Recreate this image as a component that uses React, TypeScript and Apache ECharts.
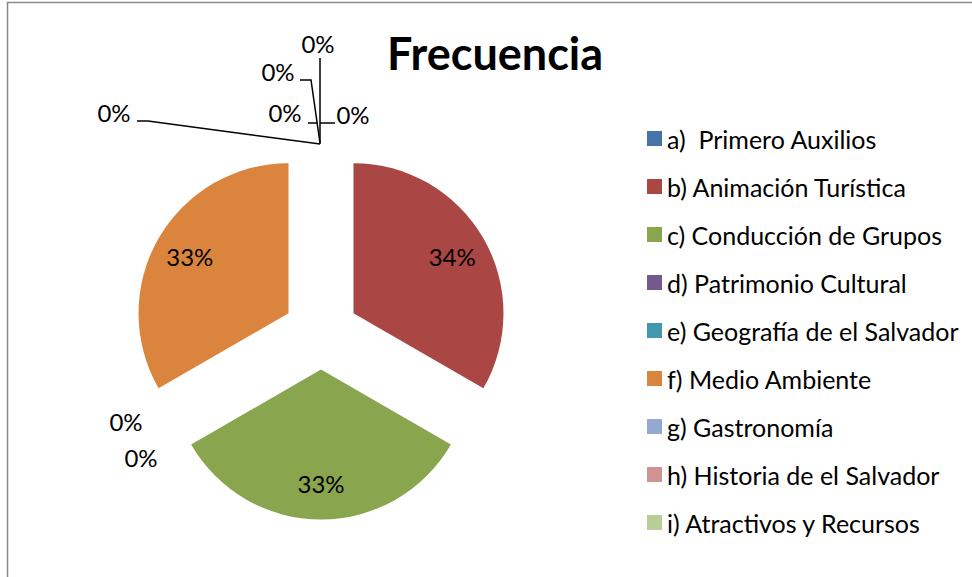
import React, { useEffect, useRef } from "react";
import * as echarts from "echarts";

const categories = [
  "a)  Primero Auxilios",
  "b) Animación Turística",
  "c) Conducción de Grupos",
  "d) Patrimonio Cultural",
  "e) Geografía de el Salvador",
  "f) Medio Ambiente",
  "g) Gastronomía",
  "h) Historia de el Salvador",
  "i) Atractivos y Recursos",
  "j)",
];
const values = [0, 1, 1, 0, 0, 1, 0, 0, 0, 0];
const legendCount = 9;
const colors = [
  "#4573AA", "#AA4643", "#89A54E", "#74598F", "#4198AF",
  "#DB843D", "#93A9D0", "#D09392", "#B9CE96", "#A8BFDE",
];

// layout (not data): placement of the 0% labels, like the original
const zeroLabels: Record<number, { x: number; y: number; line: number[][] | null }> = {
  0: { x: 353, y: 114.5, line: [[320, 123], [327, 123], [335, 123]] },
  3: { x: 126, y: 421.5, line: null },
  4: { x: 141, y: 457.5, line: null },
  6: { x: 285, y: 112.5, line: [[318, 123], [313, 123], [308, 123]] },
  7: { x: 114, y: 112.5, line: [[320, 144], [148, 121], [137, 121]] },
  8: { x: 278, y: 71.5, line: [[320, 143], [311, 80], [300, 80]] },
  9: { x: 318, y: 43.5, line: [[320, 144], [320, 100], [320, 58]] },
};

const CX = 321;
const CY = 332;
const R = 150;
const EXPLODE = 37.5;
const FONT = "Lato, sans-serif";

export default function App() {
  const ref = useRef<HTMLDivElement>(null);
  useEffect(() => {
    if (!ref.current) return;
    const chart = echarts.init(ref.current, null, { renderer: "svg" });
    const total = values.reduce((a, b) => a + b, 0);
    const cum: number[] = [];
    let acc = 0;
    values.forEach((v) => {
      cum.push(acc);
      acc += v;
    });
    const sliceData = values.map((v, i) => ({
      name: categories[i],
      value: v,
      selected: true,
      itemStyle: { color: colors[i] },
    }));
    const labelData = values.map((v, i) => {
      const z = zeroLabels[i];
      return {
        name: categories[i],
        value: v,
        label: { position: v > 0 ? "inside" : "outside", fontFamily: FONT },
        labelLine: { show: v === 0 && !!(z && z.line) },
      };
    });
    chart.setOption({
      animation: false,
      backgroundColor: "#ffffff",
      textStyle: { fontFamily: FONT },
      title: {
        text: "Frecuencia",
        left: 490,
        top: 48,
        textAlign: "center",
        textVerticalAlign: "middle",
        textStyle: { fontFamily: FONT, fontWeight: "bold", fontSize: 45, color: "#000" },
      },
      legend: {
        orient: "vertical",
        left: 642,
        top: 120.5,
        itemWidth: 15,
        itemHeight: 15,
        itemGap: 22.0,
        icon: "rect",
        selectedMode: false,
        data: categories.slice(0, legendCount),
        textStyle: { fontFamily: FONT, fontSize: 25, color: "#000", lineHeight: 26 },
      },
      graphic: [
        {
          type: "rect",
          shape: { x: 7.5, y: 2.5, width: 1000, height: 700 },
          style: { fill: "none", stroke: "#8a8a8a", lineWidth: 1.5 },
          silent: true,
        },
      ],
      series: [
        {
          name: "slices",
          type: "pie",
          center: [CX, CY],
          radius: [0, R],
          startAngle: 90,
          clockwise: true,
          selectedMode: "multiple",
          selectedOffset: EXPLODE,
          emphasis: { disabled: true },
          select: { itemStyle: { borderWidth: 0 } },
          itemStyle: { borderWidth: 0 },
          label: { show: false },
          labelLine: { show: false },
          data: sliceData,
        },
        {
          name: "labels",
          type: "pie",
          center: [CX, CY],
          radius: [0, R],
          startAngle: 90,
          clockwise: true,
          silent: true,
          selectedMode: false,
          avoidLabelOverlap: false,
          minShowLabelAngle: 0,
          percentPrecision: 0,
          emphasis: { disabled: true },
          itemStyle: { color: "rgba(0,0,0,0)", borderWidth: 0 },
          label: {
            show: true,
            formatter: "{d}%",
            fontFamily: FONT,
            fontSize: 24,
            color: "#000",
            opacity: 1,
          },
          labelLine: { lineStyle: { color: "#000", width: 1.5, opacity: 1 }, smooth: false },
          labelLayout: (params: any) => {
            const i = params.dataIndex;
            if (values[i] > 0) {
              const mid = ((cum[i] + values[i] / 2) / total) * Math.PI * 2;
              const dx = Math.sin(mid);
              const dy = -Math.cos(mid);
              const rr = EXPLODE + R * 0.76;
              return { x: CX + dx * rr, y: CY + dy * rr, align: "center", verticalAlign: "middle" };
            }
            const z = zeroLabels[i];
            if (!z) return {};
            const out: any = { x: z.x, y: z.y, align: "center", verticalAlign: "middle" };
            if (z.line) out.labelLinePoints = z.line;
            return out;
          },
          data: labelData,
        },
      ],
    });
    return () => chart.dispose();
  }, []);
  return (
    <div
      ref={ref}
      style={{ position: "absolute", left: 0, top: 0, width: 972, height: 577 }}
    />
  );
}
